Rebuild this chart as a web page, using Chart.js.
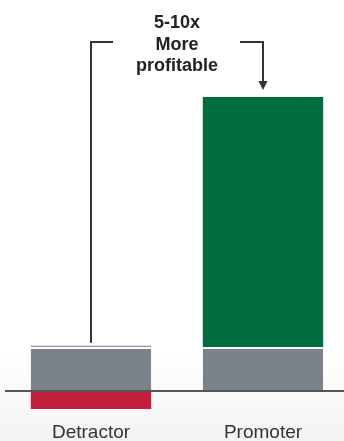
<!DOCTYPE html>
<html>
<head>
<meta charset="utf-8">
<script src="https://cdn.jsdelivr.net/npm/chart.js@4"></script>
<style>
  html, body { margin: 0; padding: 0; background: #fff; overflow: hidden; }
  canvas { display: block; }
</style>
</head>
<body>
<!-- canvas runs a few px past the window on the right, like the original crop -->
<canvas id="myChart" width="349" height="441"></canvas>
<script>
// categories and stacked segments (unit = base profit level)
const categories = ['Detractor', 'Promoter'];
const baseValues = [1.05, 1.05];
const lossValues = [-0.43, 0];
const extraValues = [0.025, 5.95];
const calloutLines = ['5-10x', 'More', 'profitable'];

// background: white fading to a very light grey at the bottom
const backdrop = {
  id: 'backdrop',
  beforeDraw(chart) {
    const ctx = chart.ctx;
    const g = ctx.createLinearGradient(0, 350, 0, chart.height);
    g.addColorStop(0, '#ffffff');
    g.addColorStop(1, '#f2f3f5');
    ctx.save();
    ctx.fillStyle = g;
    ctx.fillRect(0, 0, chart.width, chart.height);
    ctx.restore();
  }
};

// bracket + arrow + text from Detractor to Promoter
const callout = {
  id: 'callout',
  afterDraw(chart) {
    const ctx = chart.ctx;
    const x = chart.scales.x, y = chart.scales.y;
    const xL = x.getPixelForValue(0);
    const xR = x.getPixelForValue(1);
    const mid = (xL + xR) / 2;
    const lineY = 42;
    const leftBottom = y.getPixelForValue(baseValues[0] + extraValues[0]) - 3;
    const arrowTip = y.getPixelForValue(baseValues[1] + extraValues[1]) - 7;

    ctx.save();
    ctx.strokeStyle = '#333';
    ctx.fillStyle = '#333';
    ctx.lineWidth = 2;
    ctx.beginPath();
    ctx.moveTo(xL, leftBottom);
    ctx.lineTo(xL, lineY);
    ctx.lineTo(mid - 64, lineY);
    ctx.moveTo(mid + 63, lineY);
    ctx.lineTo(xR, lineY);
    ctx.lineTo(xR, arrowTip - 9);
    ctx.stroke();
    ctx.beginPath();
    ctx.moveTo(xR - 4.5, arrowTip - 9);
    ctx.lineTo(xR + 4.5, arrowTip - 9);
    ctx.lineTo(xR, arrowTip);
    ctx.closePath();
    ctx.fill();

    ctx.fillStyle = '#222';
    ctx.font = 'bold 18px "Liberation Sans", Arial, sans-serif';
    ctx.textAlign = 'center';
    ctx.textBaseline = 'alphabetic';
    calloutLines.forEach((t, i) => ctx.fillText(t, mid, 28 + i * 21.5));
    ctx.restore();
  }
};

new Chart(document.getElementById('myChart'), {
  type: 'bar',
  data: {
    labels: categories,
    datasets: [
      {
        label: 'Base',
        data: baseValues,
        backgroundColor: '#7c828a',
        borderColor: '#ffffff',
        borderWidth: { top: 2, right: 0, bottom: 0, left: 0 },
        borderSkipped: false
      },
      {
        label: 'Loss',
        data: lossValues,
        backgroundColor: '#c41f3f'
      },
      {
        label: 'Extra',
        data: extraValues,
        backgroundColor: ['#8e9399', '#016c3e']
      }
    ]
  },
  options: {
    responsive: false,
    animation: false,
    events: [],
    layout: { padding: { top: 55, bottom: 0, left: 5, right: 0 } },
    datasets: { bar: { barPercentage: 0.7, categoryPercentage: 1 } },
    scales: {
      x: {
        stacked: true,
        grid: { display: false, drawTicks: false },
        border: { display: false },
        afterFit: scale => { scale.height = 29; },
        ticks: {
          padding: 9,
          color: '#333',
          font: { family: '"Liberation Sans", Arial, sans-serif', size: 19 }
        }
      },
      y: {
        stacked: true,
        min: -0.5,
        max: 8,
        z: 1,
        afterFit: scale => { scale.width = 0; },
        afterBuildTicks: scale => { scale.ticks = [{ value: 0 }]; },
        ticks: { display: false },
        border: { display: false },
        grid: { color: '#555', lineWidth: 2, drawTicks: false }
      }
    },
    plugins: {
      legend: { display: false },
      tooltip: { enabled: false }
    }
  },
  plugins: [backdrop, callout]
});
</script>
</body>
</html>
